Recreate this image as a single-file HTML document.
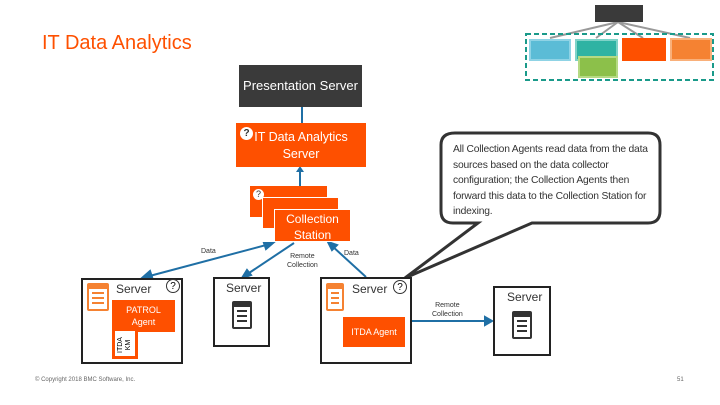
<!DOCTYPE html>
<html><head><meta charset="utf-8"><style>
body{margin:0;width:720px;height:405px;background:#fff;font-family:"Liberation Sans",sans-serif;position:relative;overflow:hidden}
.a{position:absolute;box-sizing:border-box}
.o{background:#fe5000;color:#fff;text-align:center}
.srv{border:2px solid #222;background:#fff}
.ic{border-top-width:6px!important;background:repeating-linear-gradient(#fff 0 3px,currentColor 3px 5px);background-clip:content-box;padding:3px 3px}
</style></head><body>
<div class="a" style="left:42px;top:32px;font-size:20px;color:#fe5000">IT Data Analytics</div>

<svg class="a" style="left:0;top:0" width="720" height="405">
<g stroke="#999" stroke-width="2"><line x1="618" y1="22" x2="550" y2="38"/><line x1="618" y1="22" x2="596" y2="38"/><line x1="618" y1="22" x2="643" y2="38"/><line x1="618" y1="22" x2="690" y2="38"/></g>
<rect x="526" y="34" width="187" height="46" fill="none" stroke="#1a9a8a" stroke-width="2" stroke-dasharray="5,3"/>
<line x1="302" y1="107" x2="302" y2="123" stroke="#1f6fa5" stroke-width="2"/>
<line x1="300" y1="186" x2="300" y2="168" stroke="#1f6fa5" stroke-width="2"/>
<polygon points="296,172 304,172 300,166" fill="#1f6fa5"/>
<g stroke="#1f6fa5" stroke-width="2" fill="#1f6fa5">
<line x1="142" y1="278" x2="270" y2="244"/><polygon points="273,243 264,243 266,249" />
<polygon points="142,278 150,271 152,277" />
<line x1="294" y1="243" x2="246" y2="275"/><polygon points="242,278 247,270 251,275"/>
<line x1="366" y1="277" x2="331" y2="245"/><polygon points="328,242 337,245 332,250"/>
<line x1="411" y1="321" x2="487" y2="321"/><polygon points="492,321 485,317 485,325"/>
</g>
<path d="M455,133 H648 Q660,133 660,145 V211 Q660,223 648,223 H532 L405,278 L478,223 H453 Q441,223 441,211 V145 Q441,133 455,133 Z" fill="#fff" stroke="#333" stroke-width="3"/>
</svg>
<div class="a" style="left:595px;top:5px;width:48px;height:17px;background:#3a3a3a"></div>
<div class="a" style="left:529px;top:39px;width:42px;height:22px;background:#5bbcd6;border:2px solid #8fd3e5"></div>
<div class="a" style="left:575px;top:39px;width:43px;height:22px;background:#2fb3a3;border:2px solid #7fd3c8"></div>
<div class="a" style="left:578px;top:56px;width:40px;height:22px;background:#8cc04a;border:2px solid #b5da84"></div>
<div class="a" style="left:622px;top:38px;width:44px;height:23px;background:#fe5000"></div>
<div class="a" style="left:670px;top:38px;width:42px;height:23px;background:#f58232;border:2px solid #f9b07a"></div>

<div class="a" style="left:239px;top:65px;width:123px;height:42px;background:#3a3a3a;color:#fff;font-size:13px;text-align:center;line-height:42px">Presentation Server</div>
<div class="a o" style="left:236px;top:123px;width:130px;height:44px;font-size:12.5px;line-height:17px;padding-top:6px">IT Data Analytics<br>Server</div>
<div class="a" style="left:240px;top:127px;width:13px;height:13px;border-radius:50%;background:#fff;color:#333;font-size:10px;text-align:center;line-height:13px;font-weight:bold">?</div>

<div class="a o" style="left:250px;top:186px;width:77px;height:31px"></div>
<div class="a o" style="left:262px;top:197px;width:77px;height:32px;border:1px solid #fff"></div>
<div class="a o" style="left:274px;top:209px;width:77px;height:33px;border:1px solid #fff;font-size:12px;line-height:16px;padding-top:1px">Collection<br>Station</div>
<div class="a" style="left:253px;top:189px;width:11px;height:11px;border-radius:50%;background:#fff;color:#333;font-size:9px;text-align:center;line-height:11px">?</div>

<div class="a" style="left:201px;top:248px;font-size:7px;color:#333">Data</div>
<div class="a" style="left:287px;top:252px;font-size:7px;color:#333;text-align:center;line-height:9px">Remote<br>Collection</div>
<div class="a" style="left:344px;top:250px;font-size:7px;color:#333">Data</div>
<div class="a" style="left:432px;top:301px;font-size:7px;color:#333;text-align:center;line-height:9px">Remote<br>Collection</div>

<div class="a" style="left:453px;top:142px;width:204px;font-size:10.3px;line-height:15.5px;color:#333;letter-spacing:-0.2px">All Collection Agents read data from the data sources based on the data collector configuration; the Collection Agents then forward this data to the Collection Station for indexing.</div>

<div class="a srv" style="left:81px;top:278px;width:102px;height:86px"></div>
<div class="a ic" style="left:87px;top:283px;width:22px;height:28px;border:2px solid #f58232;border-radius:2px;color:#f58232"></div>
<div class="a" style="left:116px;top:282px;font-size:12px;color:#333">Server</div>
<div class="a" style="left:166px;top:279px;width:14px;height:14px;border:1px solid #333;border-radius:50%;font-size:10px;text-align:center;line-height:14px">?</div>
<div class="a o" style="left:112px;top:300px;width:63px;height:32px;font-size:9px;line-height:12px;padding-top:4px">PATROL<br>Agent</div>
<div class="a" style="left:112px;top:328px;width:26px;height:31px;border:3px solid #fe5000;background:#fff"></div>
<div class="a" style="left:112px;top:337px;font-size:7px;transform:rotate(-90deg);line-height:8px;width:26px;text-align:center">ITDA KM</div>

<div class="a srv" style="left:213px;top:277px;width:57px;height:70px"></div>
<div class="a" style="left:226px;top:281px;font-size:12px;color:#333">Server</div>
<div class="a ic" style="left:232px;top:301px;width:20px;height:28px;border:2px solid #333;border-radius:2px;color:#333"></div>

<div class="a srv" style="left:320px;top:277px;width:92px;height:87px"></div>
<div class="a ic" style="left:326px;top:283px;width:18px;height:28px;border:2px solid #f58232;border-radius:2px;color:#f58232"></div>
<div class="a" style="left:352px;top:282px;font-size:12px;color:#333">Server</div>
<div class="a" style="left:393px;top:280px;width:14px;height:14px;border:1px solid #333;border-radius:50%;font-size:10px;text-align:center;line-height:14px">?</div>
<div class="a o" style="left:343px;top:317px;width:62px;height:30px;font-size:9px;line-height:30px">ITDA Agent</div>

<div class="a srv" style="left:493px;top:286px;width:58px;height:70px"></div>
<div class="a" style="left:507px;top:290px;font-size:12px;color:#333">Server</div>
<div class="a ic" style="left:512px;top:311px;width:20px;height:28px;border:2px solid #333;border-radius:2px;color:#333"></div>

<div class="a" style="left:35px;top:377px;font-size:6px;color:#666">© Copyright 2018 BMC Software, Inc.</div>
<div class="a" style="left:677px;top:377px;font-size:6px;color:#666">51</div>
</body></html>
